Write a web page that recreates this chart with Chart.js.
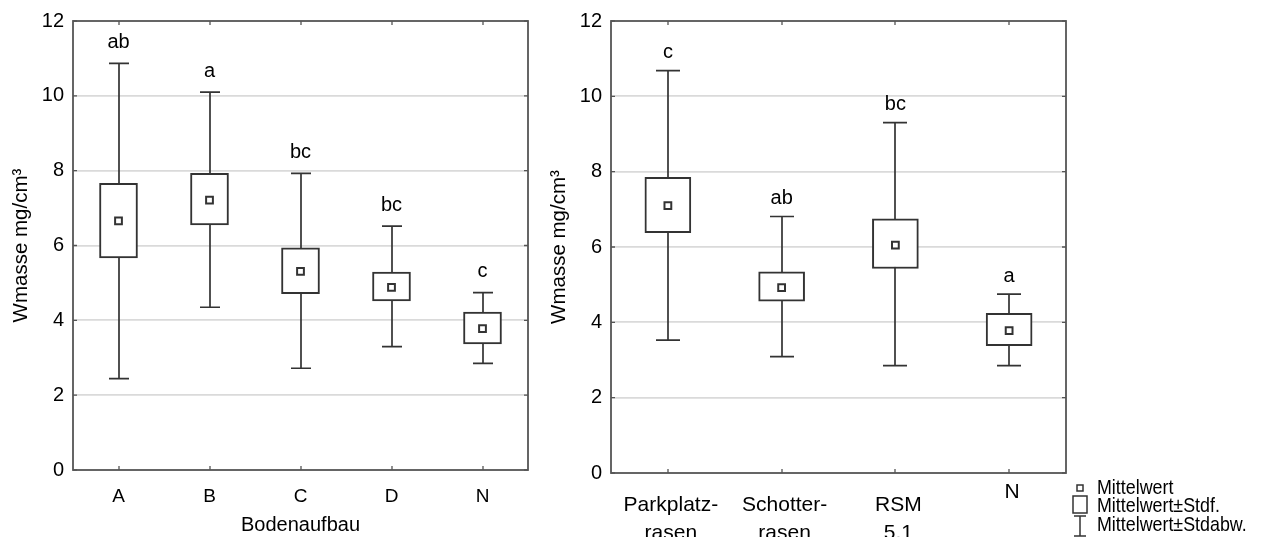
<!DOCTYPE html>
<html><head><meta charset="utf-8">
<script src="https://cdn.jsdelivr.net/npm/chart.js@4/dist/chart.umd.min.js"></script>
<style>
html,body{margin:0;padding:0;background:#fff;width:1261px;height:537px;overflow:hidden}
.wrap{position:absolute;top:0;height:537px}
#w1{left:0;width:540px}
#w2{left:540px;width:721px}
</style></head><body>
<div class="wrap" id="w1"><canvas id="c1" width="540" height="537"></canvas></div>
<div class="wrap" id="w2"><canvas id="c2" width="721" height="537"></canvas></div>
<script>
// ---- data: left chart (Bodenaufbau) ----
const leftCategories = ['A', 'B', 'C', 'D', 'N'];
const leftMean   = [6.66, 7.21, 5.31, 4.88, 3.78];
const leftSeLow  = [5.67, 6.55, 4.71, 4.52, 3.37];
const leftSeHigh = [7.66, 7.93, 5.94, 5.29, 4.22];
const leftSdLow  = [2.44, 4.35, 2.72, 3.30, 2.85];
const leftSdHigh = [10.87, 10.10, 7.93, 6.52, 4.74];
const leftLetters = ['ab', 'a', 'bc', 'bc', 'c'];
const leftXTitle = 'Bodenaufbau';

// ---- data: right chart ----
const rightCategories = [['Parkplatz-', 'rasen'], ['Schotter-', 'rasen'], ['RSM', '5.1'], 'N'];
const rightMean   = [7.10, 4.92, 6.05, 3.78];
const rightSeLow  = [6.38, 4.56, 5.43, 3.38];
const rightSeHigh = [7.85, 5.34, 6.75, 4.24];
const rightSdLow  = [3.53, 3.09, 2.85, 2.85];
const rightSdHigh = [10.68, 6.81, 9.30, 4.75];
const rightLetters = ['c', 'ab', 'bc', 'a'];

const yTicks = [0, 2, 4, 6, 8, 10, 12];
const yTitle = 'Wmasse mg/cm³';
const legendItems = ['Mittelwert', 'Mittelwert±Stdf.', 'Mittelwert±Stdabw.'];

const FONT = "'Liberation Sans', Arial, sans-serif";
const INK = '#333';
const TXT = '#000';

const boxPlugin = {
  id: 'boxExtras',
  beforeDatasetsDraw(chart, args, o) {
    const {ctx, scales: {x, y}} = chart;
    ctx.save();
    ctx.strokeStyle = INK; ctx.lineWidth = 1.7;
    o.low.forEach((lo, i) => {
      const px = Math.round(x.getPixelForValue(i));
      const yl = y.getPixelForValue(lo), yh = y.getPixelForValue(o.high[i]);
      ctx.beginPath();
      ctx.moveTo(px, yl); ctx.lineTo(px, yh);
      ctx.moveTo(px - o.cap, yl); ctx.lineTo(px + o.cap, yl);
      ctx.moveTo(px - o.cap, yh); ctx.lineTo(px + o.cap, yh);
      ctx.stroke();
    });
    ctx.restore();
  },
  afterDatasetsDraw(chart, args, o) {
    const {ctx, chartArea: a, scales: {x, y}} = chart;
    ctx.save();
    // letters
    ctx.fillStyle = TXT;
    ctx.font = '20px ' + FONT;
    ctx.textAlign = 'center'; ctx.textBaseline = 'middle';
    o.letters.forEach((t, i) => {
      ctx.fillText(t, x.getPixelForValue(i), y.getPixelForValue(o.high[i]) - o.letterOff);
    });
    // frame
    ctx.strokeStyle = '#555'; ctx.lineWidth = 1.8;
    ctx.strokeRect(a.left, a.top, a.right - a.left, a.bottom - a.top);
    // inward ticks
    ctx.lineWidth = 1.3;
    ctx.beginPath();
    x.ticks.forEach((t, i) => {
      const px = Math.round(x.getPixelForValue(i));
      ctx.moveTo(px, a.top); ctx.lineTo(px, a.top + 4);
      ctx.moveTo(px, a.bottom); ctx.lineTo(px, a.bottom - 4);
    });
    y.ticks.forEach(t => {
      const py = y.getPixelForValue(t.value);
      ctx.moveTo(a.left, py); ctx.lineTo(a.left + 4, py);
      ctx.moveTo(a.right, py); ctx.lineTo(a.right - 4, py);
    });
    ctx.stroke();
    ctx.restore();
  },
  afterDraw(chart, args, o) {
    if (!o.legend) return;
    const ctx = chart.ctx;
    const L = o.legend;
    ctx.save();
    ctx.strokeStyle = INK; ctx.lineWidth = 1.5; ctx.fillStyle = '#fff';
    // mean marker
    ctx.strokeRect(L.x - 3, L.rows[0] - 3, 6, 6);
    // box marker
    ctx.strokeRect(L.x - 7, L.rows[1] - 10, 14, 17);
    // whisker marker
    ctx.beginPath();
    ctx.moveTo(L.x - 6, L.rows[2] - 9); ctx.lineTo(L.x + 6, L.rows[2] - 9);
    ctx.moveTo(L.x, L.rows[2] - 9); ctx.lineTo(L.x, L.rows[2] + 11);
    ctx.moveTo(L.x - 6, L.rows[2] + 11); ctx.lineTo(L.x + 6, L.rows[2] + 11);
    ctx.stroke();
    ctx.fillStyle = TXT;
    ctx.font = '21px ' + FONT;
    ctx.textAlign = 'left'; ctx.textBaseline = 'middle';
    legendItems.forEach((t, i) => {
      ctx.save();
      ctx.translate(L.tx, L.rows[i]);
      ctx.scale(0.85, 1);
      ctx.fillText(t, 0, 0);
      ctx.restore();
    });
    ctx.restore();
  }
};

function build(id, cats, mean, seLow, seHigh, sdLow, sdHigh, letters, L) {
  return new Chart(document.getElementById(id), {
    type: 'bar',
    data: {
      labels: cats,
      datasets: [
        {type: 'line', data: mean, showLine: false, pointStyle: 'rect', pointRadius: 4.8,
         pointBorderWidth: 2, pointBackgroundColor: '#fff', pointBorderColor: INK, order: 0},
        {type: 'bar', data: seLow.map((v, i) => [v, seHigh[i]]), backgroundColor: '#fff',
         borderColor: INK, borderWidth: 2, borderSkipped: false, barThickness: L.box, order: 1}
      ]
    },
    plugins: [boxPlugin],
    options: {
      responsive: false, animation: false, devicePixelRatio: 1,
      layout: {padding: {top: L.top, right: L.right, left: 0, bottom: 0}},
      plugins: {
        legend: {display: false}, tooltip: {enabled: false},
        boxExtras: {low: sdLow, high: sdHigh, cap: L.cap, letters: letters, letterOff: L.letterOff, legend: L.legend}
      },
      scales: {
        x: {
          type: 'category', offset: true,
          grid: {display: false, drawTicks: false}, border: {display: false},
          ticks: {color: TXT, padding: L.xPad, maxRotation: 0, autoSkip: false, labelOffset: L.labelOffset || 0,
                  font: L.xFont},
          title: {display: !!L.xTitle, text: L.xTitle || '', color: TXT,
                  font: {family: FONT, size: 20}, padding: {top: 0, bottom: 0}},
          afterFit: s => { s.height = L.xH; }
        },
        y: {
          min: 0, max: 12,
          afterBuildTicks: s => { s.ticks = yTicks.map(v => ({value: v})); },
          ticks: {padding: 9, color: TXT, font: {family: FONT, size: L.yFont}},
          grid: {color: c => (c.tick && (c.tick.value === 0 || c.tick.value === 12)) ? 'rgba(0,0,0,0)' : '#dadada',
                 lineWidth: 1.8, drawTicks: false},
          border: {display: false},
          title: {display: true, text: yTitle, color: TXT, font: {family: FONT, size: 20.5},
                  padding: {top: L.yTitlePad, bottom: 0}},
          afterFit: s => { s.width = L.yW; }
        }
      }
    }
  });
}

build('c1', leftCategories, leftMean, leftSeLow, leftSeHigh, leftSdLow, leftSdHigh, leftLetters, {
  top: 17, right: 12, yW: 73, xH: 67, box: 38, cap: 10, letterOff: 21, xPad: 15,
  xFont: {family: FONT, size: 19}, yFont: 20, yTitlePad: 9, xTitle: leftXTitle
});

build('c2', rightCategories, rightMean, rightSeLow, rightSeHigh, rightSdLow, rightSdHigh, rightLetters, {
  top: 21, right: 195, yW: 71, xH: 64, box: 46, cap: 12, letterOff: 18, xPad: 18, labelOffset: 3,
  xFont: c => (c.index === 3 ? {family: FONT, size: 21, lineHeight: 0.15} : {family: FONT, size: 21, lineHeight: '28px'}),
  yFont: 20, yTitlePad: 7,
  legend: {x: 540, tx: 557, rows: [488, 506, 525]}
});
</script>
</body></html>
